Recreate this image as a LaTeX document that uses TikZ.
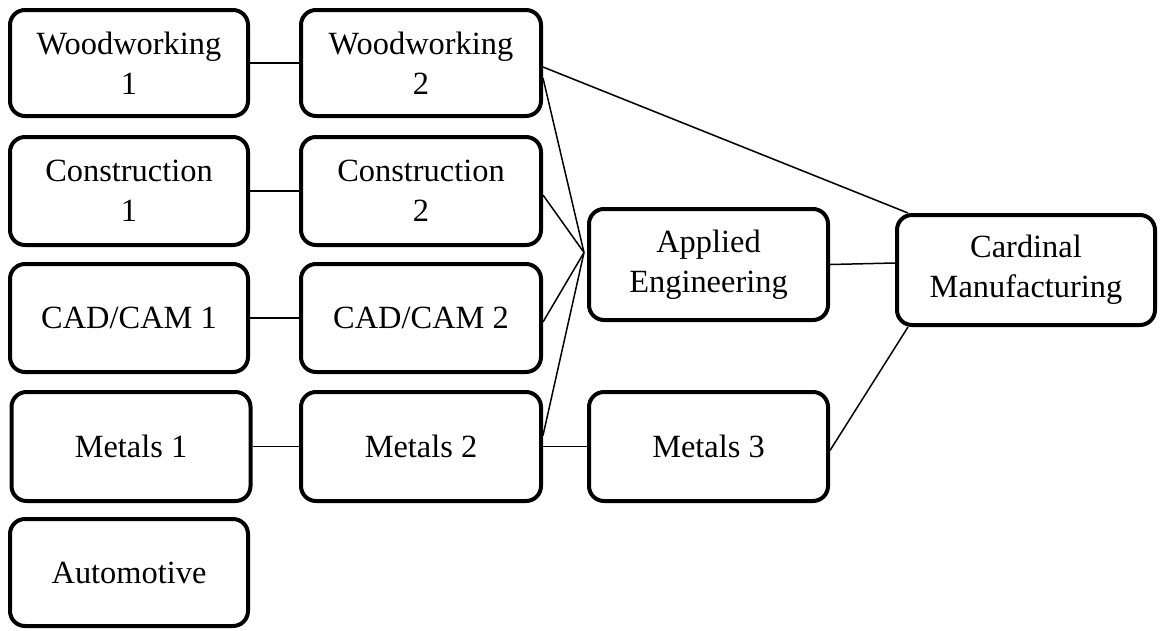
\documentclass[tikz,border=0pt]{standalone}
\usepackage{fontspec}
\setmainfont{Liberation Serif}
\usetikzlibrary{calc}
\begin{document}
\begin{tikzpicture}[x=1pt,y=-1pt,
  box/.style={draw=black,line width=4pt,rounded corners=15pt,fill=white,
    align=center,inner sep=0pt,font=\fontsize{32.4}{40}\selectfont},
  link/.style={draw=black,line width=1.5pt}]
\useasboundingbox (0,0) rectangle (1160,630);
% column 1
\node[box,minimum width=238,minimum height=106] (ww1) at (129,63) {Woodworking\\1};
\node[box,minimum width=238,minimum height=108] (c1) at (129,191) {Construction\\1};
\node[box,minimum width=238,minimum height=108] (cad1) at (129,318) {CAD/CAM 1};
\node[box,minimum width=239,minimum height=109] (m1) at (131,446.5) {Metals 1};
\node[box,minimum width=238,minimum height=107] (auto) at (129,572.5) {Automotive};
% column 2
\node[box,minimum width=240,minimum height=106] (ww2) at (421,63) {Woodworking\\2};
\node[box,minimum width=240,minimum height=108] (c2) at (421,191) {Construction\\2};
\node[box,minimum width=240,minimum height=108] (cad2) at (421,318) {CAD/CAM 2};
\node[box,minimum width=240,minimum height=109] (m2) at (421,446.5) {Metals 2};
% column 3
\node[box,minimum width=239,minimum height=111] (ae) at (708.5,264.5) {Applied\\Engineering};
\node[box,minimum width=239,minimum height=109] (m3) at (708.5,446.5) {Metals 3};
% column 4
\node[box,minimum width=258,minimum height=110] (cm) at (1026,270) {Cardinal\\Manufacturing};
% helper coordinates
\coordinate (hub) at ($(ae.west)+(-3,-12)$);
\coordinate (cmtop) at ($(cm.north west)+(13,0)$);
\coordinate (cmbot) at ($(cm.south west)+(13,0)$);
% connectors
\draw[link] (ww1.east) -- (ww2.west);
\draw[link] (c1.east) -- (c2.west);
\draw[link] (cad1.east) -- (cad2.west);
\draw[link] (m1.east) -- (m2.west);
\draw[link] (m2.east) -- (m3.west);
\draw[link] (ae.east) -- ($(cm.west)+(0,-7)$);
\draw[link] ($(ww2.east)+(0,4)$) -- (cmtop);
\draw[link] ($(ww2.east)+(0,15)$) -- (hub);
\draw[link] ($(c2.east)+(0,4)$) -- (hub);
\draw[link] ($(cad2.east)+(0,4)$) -- (hub);
\draw[link] ($(m2.east)+(0,-11)$) -- (hub);
\draw[link] ($(m3.east)+(0,4)$) -- (cmbot);
\end{tikzpicture}
\end{document}
